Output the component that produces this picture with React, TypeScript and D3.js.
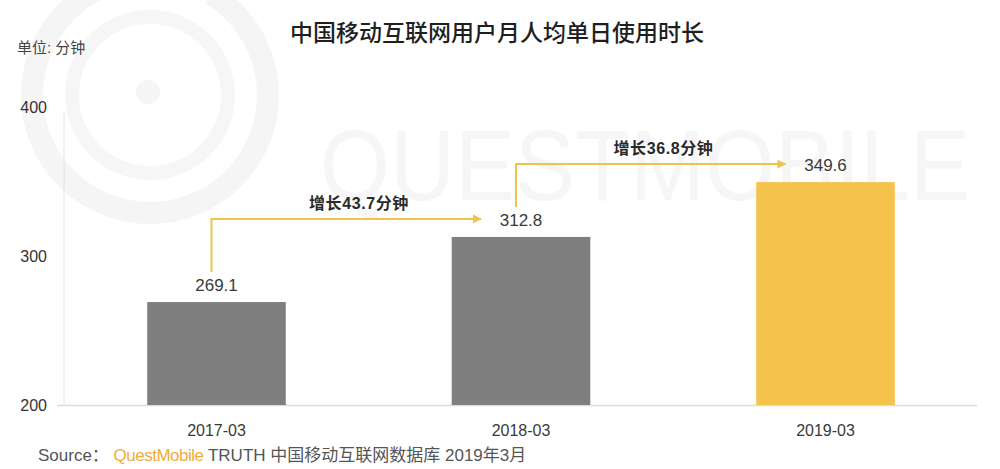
import React from "react";
import * as d3 from "d3";

const categories = ["2017-03", "2018-03", "2019-03"];
const values = [269.1, 312.8, 349.6];
const barColors = ["#7f7f7f", "#7f7f7f", "#f5c24c"];
const yTicks = [200, 300, 400];
const growthLabels = ["增长43.7分钟", "增长36.8分钟"];
const growthFrom = [0, 1];
const growthTo = [1, 2];

const W = 1000;
const H = 469;
const CJK = "'Liberation Sans', Arial, 'Noto Sans CJK SC', sans-serif";

export default function App() {
  const x = d3.scaleBand<string>().domain(categories).range([65, 977]).paddingInner(0.545).paddingOuter(0.27);
  const y = d3.scaleLinear().domain([200, 400]).range([405, 107]);
  const bw = x.bandwidth();
  const cx = (i: number) => (x(categories[i]) as number) + bw / 2;
  const labelY = (i: number) => y(values[i]) - 11;

  return (
    <svg width={W} height={H} style={{ position: "absolute", left: 0, top: 0, background: "#fff" }}>
      <defs>
        <marker id="ah" viewBox="0 0 10 10" refX="9" refY="5" markerWidth="9" markerHeight="9" markerUnits="userSpaceOnUse" orient="auto">
          <path d="M0,0 L10,5 L0,10 z" fill="#f2c14e" />
        </marker>
      </defs>
      {/* watermark */}
      <g>
        <circle cx={150} cy={95} r={118} fill="none" stroke="#f5f5f5" strokeWidth={22} strokeDasharray="560 60" />
        <circle cx={150} cy={95} r={78} fill="none" stroke="#f6f6f6" strokeWidth={14} />
        <circle cx={148} cy={92} r={12} fill="#f5f5f5" />
        <text transform="translate(320,200) scale(1,1.12)" x={0} y={0} fontFamily="'Liberation Sans', Arial, sans-serif" fontSize={90} fontWeight={300} fill="#f6f6f6">QUESTMOBILE</text>
      </g>
      {/* title */}
      <text x={497} y={41} textAnchor="middle" fontFamily="'Noto Sans CJK SC', sans-serif" fontSize={23} fontWeight={500} fill="#1f1f1f">中国移动互联网用户月人均单日使用时长</text>
      <text x={17} y={53} fontFamily={CJK} fontSize={15} fill="#444">单位: 分钟</text>
      {/* axes */}
      <line x1={64} x2={64} y1={112} y2={y(200)} stroke="#e2e2e2" strokeWidth={1} />
      <line x1={57} x2={977} y1={y(200) + 0.5} y2={y(200) + 0.5} stroke="#dcdcdc" strokeWidth={1.5} />
      {yTicks.map((t) => (
        <text key={t} x={47} y={y(t) + 6} textAnchor="end" fontFamily={CJK} fontSize={16} fill="#333">{t}</text>
      ))}
      {/* bars */}
      {categories.map((c, i) => (
        <g key={c}>
          <rect x={x(c)} y={y(values[i])} width={bw} height={y(200) - y(values[i])} fill={barColors[i]} />
          <text x={cx(i)} y={labelY(i)} textAnchor="middle" fontFamily={CJK} fontSize={17} fill="#3a3a3a">{values[i].toFixed(1)}</text>
          <text x={cx(i)} y={436} textAnchor="middle" fontFamily={CJK} fontSize={16} fill="#3a3a3a">{c}</text>
        </g>
      ))}
      {/* growth arrows */}
      {growthLabels.map((lab, k) => {
        const fx = cx(growthFrom[k]) - 5;
        const fy = labelY(growthFrom[k]) - 19;
        const ty = labelY(growthTo[k]) - 7;
        const tx = cx(growthTo[k]) - 40;
        return (
          <g key={lab}>
            <path d={`M${fx},${fy} V${ty} H${tx}`} fill="none" stroke="#f2c14e" strokeWidth={2} markerEnd="url(#ah)" />
            <text x={tx - 122} y={ty - 10} textAnchor="middle" fontFamily={CJK} fontSize={16} letterSpacing={0.6} fontWeight={700} fill="#2a2a2a">{lab}</text>
          </g>
        );
      })}
      {/* source */}
      <text x={38} y={461} fontFamily={CJK} fontSize={17} fill="#555">
        <tspan>Source： </tspan>
        <tspan fill="#f0ad3c" letterSpacing={-0.5}>QuestMobile</tspan>
        <tspan> TRUTH 中国移动互联网数据库 2019年3月</tspan>
      </text>
    </svg>
  );
}
